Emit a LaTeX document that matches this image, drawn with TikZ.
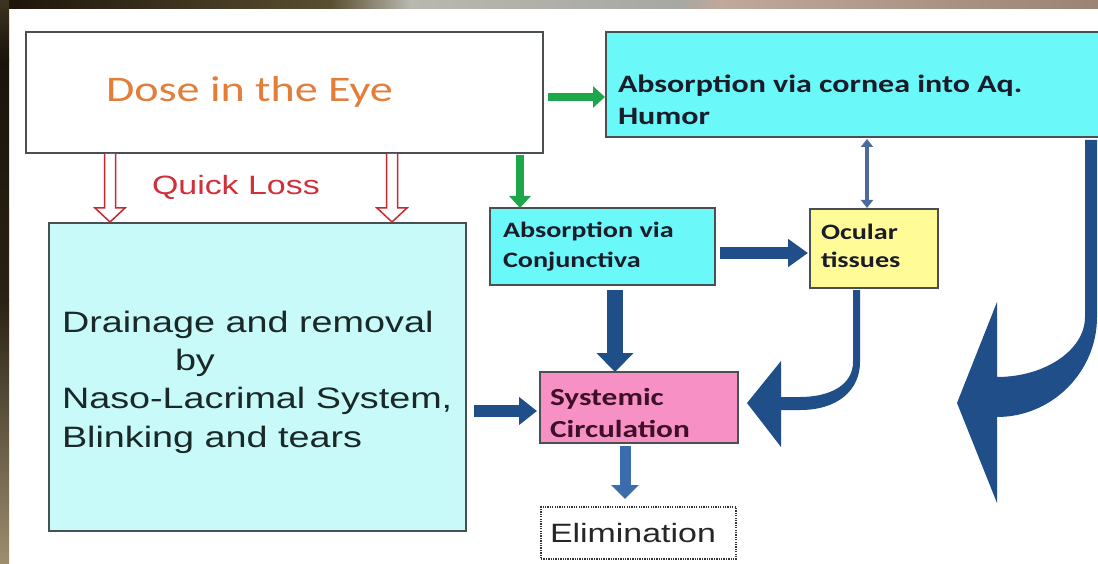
\documentclass[tikz,border=0pt]{standalone}
\usepackage{fontspec}
\usetikzlibrary{arrows.meta,calc}
\newfontfamily\calfont[FakeStretch=1.28]{Carlito}
\newfontfamily\arifont[FakeStretch=1.28]{Liberation Sans}
\definecolor{navyA}{HTML}{1F4E89}
\definecolor{steelA}{HTML}{3B6DAE}
\definecolor{steelB}{HTML}{4A6B9B}
\definecolor{greenA}{HTML}{1DA64A}
\definecolor{redA}{HTML}{C8282E}
\definecolor{redT}{HTML}{CF303A}
\definecolor{cyanA}{HTML}{6BF8F8}
\definecolor{cyanL}{HTML}{C8FAFA}
\definecolor{yellowA}{HTML}{FFFC98}
\definecolor{pinkA}{HTML}{F790C4}
\definecolor{boxline}{HTML}{4A4F52}
\definecolor{orangeT}{HTML}{E27D3A}
\definecolor{darkT}{HTML}{1B1B2A}
\definecolor{maroonT}{HTML}{3E1028}
\definecolor{drainT}{HTML}{1A2828}
\tikzset{
  box/.style={draw=boxline, line width=1.4pt, inner sep=0pt, outer sep=0pt, anchor=north west},
  lbl/.style={inner sep=0pt, outer sep=0pt, anchor=base west},
  hollow/.style={draw=redA, fill=white, line width=1.5pt, line join=miter},
  greenarrow/.style={draw=greenA, line width=8.5pt, -{Triangle[length=12pt,width=21pt]}},
}
\begin{document}
\begin{tikzpicture}[x=1pt,y=-1pt]
\useasboundingbox (0,0) rectangle (1098,564);
% background
\fill[white] (0,0) rectangle (1098,564);
\shade[left color=black!85!brown, right color={rgb,255:red,90;green,78;blue,48}] (0,0) rectangle (330,9);
\shade[left color={rgb,255:red,90;green,78;blue,48}, right color={rgb,255:red,184;green,184;blue,176}] (330,0) rectangle (410,9);
\shade[left color={rgb,255:red,184;green,184;blue,176}, right color={rgb,255:red,168;green,168;blue,162}] (410,0) rectangle (680,9);
\shade[left color={rgb,255:red,168;green,168;blue,162}, right color={rgb,255:red,192;green,168;blue,154}] (680,0) rectangle (720,9);
\shade[left color={rgb,255:red,192;green,168;blue,154}, middle color={rgb,255:red,200;green,176;blue,164}, right color={rgb,255:red,156;green,132;blue,116}] (720,0) rectangle (1098,9);
\shade[top color={rgb,255:red,61;green,52;blue,32}, bottom color={rgb,255:red,26;green,20;blue,10}] (0,0) rectangle (9,60);
\shade[top color={rgb,255:red,26;green,20;blue,10}, bottom color={rgb,255:red,42;green,34;blue,20}] (0,60) rectangle (9,300);
\shade[top color={rgb,255:red,42;green,34;blue,20}, bottom color={rgb,255:red,158;green,142;blue,110}] (0,300) rectangle (9,564);

% boxes
\node[box, fill=white, minimum width=517pt, minimum height=121pt] (dose) at (26,32) {};
\node[box, fill=cyanA, minimum width=500pt, minimum height=105pt] (cornea) at (606,32) {};
\node[box, fill=cyanL, minimum width=417pt, minimum height=308pt] (drain) at (49,223) {};
\node[box, fill=cyanA, minimum width=225pt, minimum height=77pt] (conj) at (490,208) {};
\node[box, fill=yellowA, minimum width=128pt, minimum height=79pt] (ocular) at (810,209) {};
\node[box, fill=pinkA, minimum width=198pt, minimum height=71pt] (syst) at (540,372) {};
\node[box, fill=white, draw=black!80, dash pattern=on 1.3pt off 1.1pt, line width=2.6pt, minimum width=195pt, minimum height=52pt] (elim) at (541,507) {};

% texts
\node[lbl, text=orangeT, font=\calfont\fontsize{36}{40}\selectfont] (doset) at (106,102) {Dose in the Eye};
\node[lbl, text=redT, font=\arifont\fontsize{26.5}{30}\selectfont] (quickt) at (152,195) {Quick Loss};
\node[lbl, text=darkT, font=\calfont\bfseries\fontsize{25}{30}\selectfont] (corneat1) at (618,93) {Absorption via cornea into Aq.};
\node[lbl, text=darkT, font=\calfont\bfseries\fontsize{25}{30}\selectfont] (corneat2) at (618,125) {Humor};
\node[lbl, text=darkT, font=\calfont\bfseries\fontsize{22}{28}\selectfont] (conjt1) at (503,238) {Absorption via};
\node[lbl, text=darkT, font=\calfont\bfseries\fontsize{22}{28}\selectfont] (conjt2) at (503,268) {Conjunctiva};
\node[lbl, text=darkT, font=\calfont\bfseries\fontsize{22}{28}\selectfont] (ocult1) at (821,240) {Ocular};
\node[lbl, text=darkT, font=\calfont\bfseries\fontsize{22}{28}\selectfont] (ocult2) at (821,268) {tissues};
\node[lbl, text=maroonT, font=\calfont\bfseries\fontsize{24.5}{30}\selectfont] (systt1) at (550,405) {Systemic};
\node[lbl, text=maroonT, font=\calfont\bfseries\fontsize{24.5}{30}\selectfont] (systt2) at (550,437) {Circulation};
\node[lbl, text=drainT, font=\arifont\fontsize{29.5}{36}\selectfont] (draint1) at (62,332) {Drainage and removal};
\node[lbl, text=drainT, font=\arifont\fontsize{29.5}{36}\selectfont] (draint2) at (175,370) {by};
\node[lbl, text=drainT, font=\arifont\fontsize{29.5}{36}\selectfont] (draint3) at (62,408) {Naso-Lacrimal System,};
\node[lbl, text=drainT, font=\arifont\fontsize{29.5}{36}\selectfont] (draint4) at (62,447) {Blinking and tears};
\node[lbl, text=black!85, font=\arifont\fontsize{26.5}{30}\selectfont] (elimt) at (550,542) {Elimination};

% green arrows
\draw[greenarrow] ($(dose.north east)+(5,65)$) -- ($(cornea.north west)+(-1,65)$);
\draw[greenarrow] ($(dose.south east)+(-23,2)$) -- ($(conj.north west)+(30,0)$);

% red hollow arrows (Quick Loss)
\coordinate (qa1) at ($(dose.south west)+(84,0)$);
\coordinate (qb1) at ($(drain.north west)+(61,0)$);
\coordinate (qa2) at ($(dose.south west)+(366,0)$);
\coordinate (qb2) at ($(drain.north west)+(343,0)$);
\foreach \a/\b in {qa1/qb1, qa2/qb2}{
  \draw[hollow] ($(\a)+(-5.5,1)$) -- ($(\b)+(-5.5,-15)$) -- ($(\b)+(-15,-15)$) -- ($(\b)+(0,-1)$)
    -- ($(\b)+(15,-15)$) -- ($(\b)+(5.5,-15)$) -- ($(\a)+(5.5,1)$);
}

% navy straight arrows
\draw[navyA, line width=11.5pt, -{Triangle[length=20pt,width=27pt]}] ($(conj.north east)+(5,45)$) -- ($(ocular.north west)+(-2,44)$);
\draw[navyA, line width=16pt, -{Triangle[length=19pt,width=36pt]}] ($(conj.south west)+(125,5)$) -- ($(syst.north west)+(75,0)$);
\draw[navyA, line width=12pt, -{Triangle[length=18pt,width=27pt]}] ($(drain.south east)+(8,-120)$) -- ($(syst.south west)+(-3,-32)$);
\draw[steelA, line width=11pt, -{Triangle[length=14pt,width=27pt]}] ($(syst.south west)+(85,3)$) -- ($(elim.north west)+(84,-8)$);
\draw[steelB, line width=4pt, {Triangle[length=8pt,width=12pt]}-{Triangle[length=8pt,width=12pt]}] ($(cornea.south west)+(261,2)$) -- ($(ocular.north west)+(57,-1)$);

% curved arrow ocular -> systemic
\begin{scope}[shift={(ocular.south west)}]
\fill[navyA] (43,2) -- (43,74) .. controls (43,97) and (20,109) .. (-10,109) -- (-29,109) -- (-29,73)
  -- (-63,115) -- (-29,159) -- (-29,122) -- (-10,122) .. controls (28,122) and (50,102) .. (50,74) -- (50,2) -- cycle;
\end{scope}

% big curved arrow from aqueous humor
\begin{scope}[shift={(cornea.south west)}]
\fill[navyA] (479,3) -- (479,180) .. controls (479,213) and (439,240) .. (391,240) -- (391,165)
  -- (351,266) -- (391,366) -- (391,280) .. controls (446,280) and (491,235) .. (491,180) -- (491,3) -- cycle;
\end{scope}
\end{tikzpicture}
\end{document}
